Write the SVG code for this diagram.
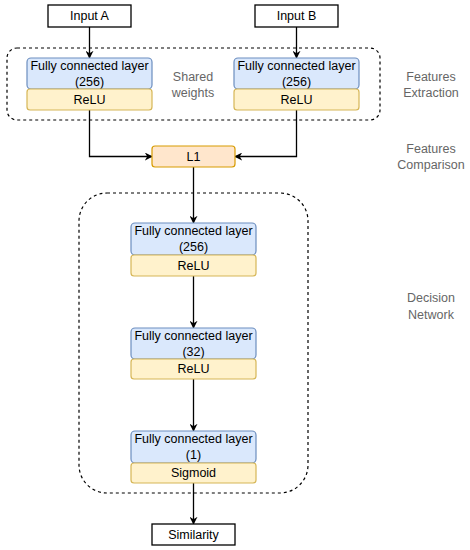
<svg xmlns="http://www.w3.org/2000/svg" width="470" height="550" viewBox="0 0 470 550">
<defs>
<style>
text{font-family:"Liberation Sans",Arial,sans-serif;font-size:12.5px;fill:#000;text-anchor:middle;dominant-baseline:central}
.lbl{fill:#666;font-size:12.5px}
.io{fill:#fff;stroke:#000;stroke-width:1.3}
.fc{fill:#dae8fc;stroke:#6c8ebf;stroke-width:1.2}
.act{fill:#fff2cc;stroke:#d6b656;stroke-width:1.2}
.l1{fill:#ffe6cc;stroke:#d79b00;stroke-width:1.2}
.grp{fill:none;stroke:#000;stroke-width:1.2;stroke-dasharray:3 3}
.edge{fill:none;stroke:#000;stroke-width:1.3;marker-end:url(#arr)}
</style>
<marker id="arr" viewBox="0 0 10 10" refX="9" refY="5" markerWidth="8" markerHeight="8" markerUnits="userSpaceOnUse" orient="auto">
<path d="M0,0 L10,5 L0,10 L3,5 z" fill="#000"/>
</marker>
</defs>
<rect width="470" height="550" fill="#fff"/>
<g id="group-extraction"><rect class="grp" x="7" y="48" width="373" height="72" rx="10"/></g>
<g id="group-decision"><rect class="grp" x="79" y="193" width="229" height="300" rx="28"/></g>
<g id="connectors">
<path class="edge" d="M89.5,27 V58"/>
<path class="edge" d="M296.5,27 V58"/>
<path class="edge" d="M89.5,110 V156.5 H152"/>
<path class="edge" d="M296.5,110 V156.5 H235"/>
<path class="edge" d="M193.5,167 V223"/>
<path class="edge" d="M193.5,276 V328"/>
<path class="edge" d="M193.5,379 V431"/>
<path class="edge" d="M193.5,483 V524"/>
</g>
<g id="input-a"><rect class="io" x="48" y="5" width="83" height="22"/><text x="89.5" y="16">Input A</text></g>
<g id="input-b"><rect class="io" x="255" y="5" width="83" height="22"/><text x="296.5" y="16">Input B</text></g>
<g id="fc-a"><rect class="fc" x="27" y="58" width="125" height="31" rx="4"/><text x="89.5" y="66">Fully connected layer</text><text x="89.5" y="81.5">(256)</text></g>
<g id="relu-a"><rect class="act" x="27" y="89" width="125" height="21" rx="3"/><text x="89.5" y="99.5">ReLU</text></g>
<g id="fc-b"><rect class="fc" x="234" y="58" width="125" height="31" rx="4"/><text x="296.5" y="66">Fully connected layer</text><text x="296.5" y="81.5">(256)</text></g>
<g id="relu-b"><rect class="act" x="234" y="89" width="125" height="21" rx="3"/><text x="296.5" y="99.5">ReLU</text></g>
<g id="shared-weights"><text class="lbl" x="193" y="77">Shared</text><text class="lbl" x="193" y="93">weights</text></g>
<g id="l1"><rect class="l1" x="152" y="146" width="83" height="21" rx="3"/><text x="193.5" y="156.5">L1</text></g>
<g id="fc-256"><rect class="fc" x="131" y="223" width="125" height="32" rx="4"/><text x="193.5" y="231">Fully connected layer</text><text x="193.5" y="247">(256)</text></g>
<g id="relu-256"><rect class="act" x="131" y="255" width="125" height="21" rx="3"/><text x="193.5" y="265.5">ReLU</text></g>
<g id="fc-32"><rect class="fc" x="131" y="328" width="125" height="31" rx="4"/><text x="193.5" y="336">Fully connected layer</text><text x="193.5" y="351.5">(32)</text></g>
<g id="relu-32"><rect class="act" x="131" y="359" width="125" height="20" rx="3"/><text x="193.5" y="369">ReLU</text></g>
<g id="fc-1"><rect class="fc" x="131" y="431" width="125" height="32" rx="4"/><text x="193.5" y="439">Fully connected layer</text><text x="193.5" y="455">(1)</text></g>
<g id="sigmoid"><rect class="act" x="131" y="463" width="125" height="20" rx="3"/><text x="193.5" y="473">Sigmoid</text></g>
<g id="similarity"><rect class="io" x="152" y="524" width="83" height="21"/><text x="193.5" y="534.5">Similarity</text></g>
<g id="label-extraction"><text class="lbl" x="431" y="77">Features</text><text class="lbl" x="431" y="93">Extraction</text></g>
<g id="label-comparison"><text class="lbl" x="431" y="149">Features</text><text class="lbl" x="431" y="164.5">Comparison</text></g>
<g id="label-decision"><text class="lbl" x="431" y="298">Decision</text><text class="lbl" x="431" y="314.5">Network</text></g>
</svg>
